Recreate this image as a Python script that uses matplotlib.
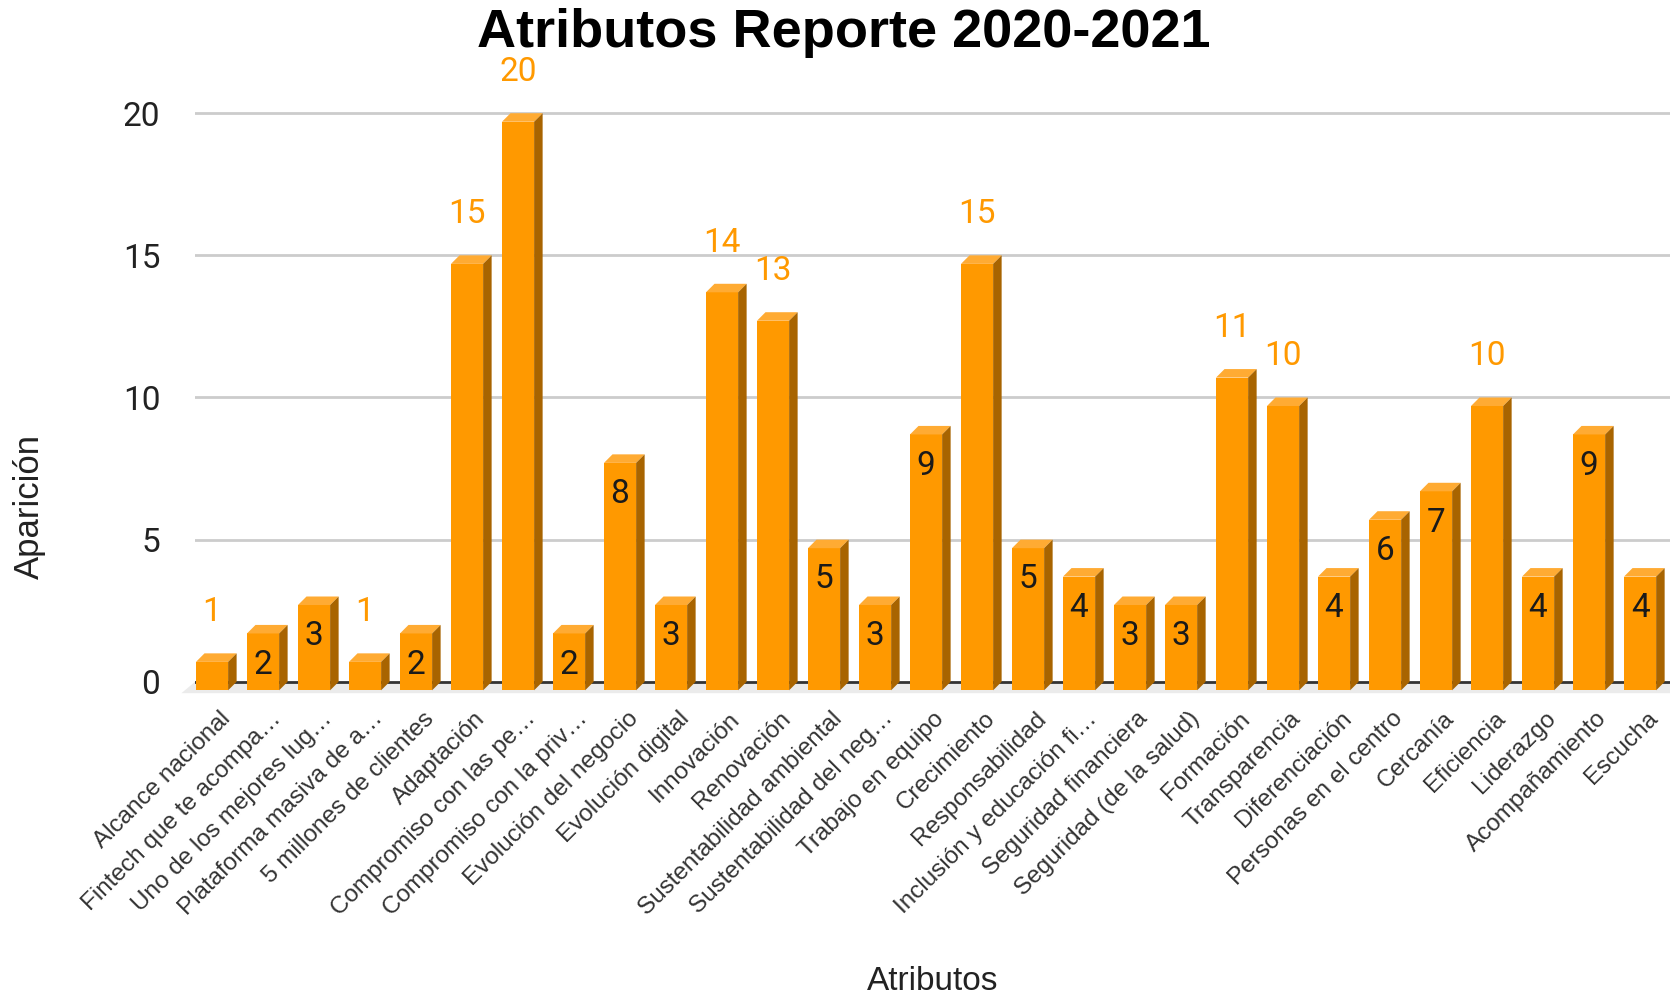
import matplotlib.pyplot as plt
from matplotlib.patches import Polygon
import numpy as np

labels = [
    "Alcance nacional", "Fintech que te acompa…", "Uno de los mejores lug…",
    "Plataforma masiva de a…", "5 millones de clientes", "Adaptación",
    "Compromiso con las pe…", "Compromiso con la priv…", "Evolución del negocio",
    "Evolución digital", "Innovación", "Renovación", "Sustentabilidad ambiental",
    "Sustentabilidad del neg…", "Trabajo en equipo", "Crecimiento",
    "Responsabilidad", "Inclusión y educación fi…", "Seguridad financiera",
    "Seguridad (de la salud)", "Formación", "Transparencia", "Diferenciación",
    "Personas en el centro", "Cercanía", "Eficiencia", "Liderazgo",
    "Acompañamiento", "Escucha",
]
values = [1, 2, 3, 1, 2, 15, 20, 2, 8, 3, 14, 13, 5, 3, 9, 15, 5, 4, 3, 3,
          11, 10, 4, 6, 7, 10, 4, 9, 4]

FRONT = "#ff9900"
TOP = "#ffab33"
SIDE = "#a86400"
LABEL_FONT = ["Liberation Sans", "DejaVu Sans"]
NUM_FONT = ["Roboto", "DejaVu Sans"]

fig = plt.figure(figsize=(16.7, 10), dpi=100)
ax = fig.add_axes([0.1168, 0.304, 0.8832, 0.597])

x = np.arange(len(values))
xmin, xmax = -0.5, 28.42
ax.set_xlim(xmin, xmax)
ax.set_ylim(-0.5, 20.5)

# depth offset of the pseudo-3d bars (data units)
dx, dy = 0.167, 0.30
w = 0.63

# gridlines live on the back wall
for g in [5, 10, 15, 20]:
    ax.axhline(g, color="#cccccc", lw=2, zorder=0)
ax.axhline(0, color="#333333", lw=2, zorder=1)

# floor
floor = Polygon([(xmin, 0), (xmax + 1, 0), (xmax + 1 - dx, -dy - 0.1), (xmin - dx - 0.1, -dy - 0.1)],
                closed=True, fc="#ebebeb", ec="none", zorder=0.5, clip_on=False)
ax.add_patch(floor)

for xi, v in zip(x, values):
    left = xi - w / 2 - dx
    right = left + w
    bot = -dy
    top = v - dy
    ax.add_patch(Polygon([(left, bot), (right, bot), (right, top), (left, top)],
                         fc=FRONT, ec="none", zorder=3))
    ax.add_patch(Polygon([(left, top), (right, top), (right + dx, top + dy), (left + dx, top + dy)],
                         fc=TOP, ec="none", zorder=3))
    ax.add_patch(Polygon([(right, bot), (right + dx, bot + dy), (right + dx, top + dy), (right, top)],
                         fc=SIDE, ec="none", zorder=3))
    cx = xi - dx
    # short bars carry their value inside, the rest above in orange
    if 2 <= v <= 9:
        ax.text(cx, v - dy - 1.1, str(v), ha="center", va="center", fontsize=24,
                color="#1a1a1a", family=NUM_FONT, zorder=4)
    else:
        ax.text(cx, v + 1.45, str(v), ha="center", va="center", fontsize=24,
                color=FRONT, family=NUM_FONT, zorder=4, clip_on=False)

ax.set_yticks([0, 5, 10, 15, 20])
ax.set_yticklabels(["0", "5", "10", "15", "20"], fontsize=24, color="#222222", family=NUM_FONT)
ax.tick_params(axis="y", length=0, pad=25)

ax.set_xticks(x + 0.12)
ax.set_xticklabels(labels, rotation=45, ha="right", va="center", rotation_mode="anchor",
                   fontsize=17.5, color="#333333", family=LABEL_FONT)
ax.tick_params(axis="x", length=0, pad=14)

for s in ax.spines.values():
    s.set_visible(False)

ax.set_xlabel("Atributos", fontsize=24, color="#222222", family=LABEL_FONT, va="center")
ax.xaxis.set_label_coords(0.5, -0.479)
ax.set_ylabel("Aparición", fontsize=25, color="#222222", family=LABEL_FONT, va="center")
ax.yaxis.set_label_coords(-0.112, 0.318)

fig.text(0.505, 0.967, "Atributos Reporte 2020-2021", ha="center", va="center",
         fontsize=39, fontweight="bold", family=LABEL_FONT, color="black")

fig.savefig("out.png", dpi=100)
